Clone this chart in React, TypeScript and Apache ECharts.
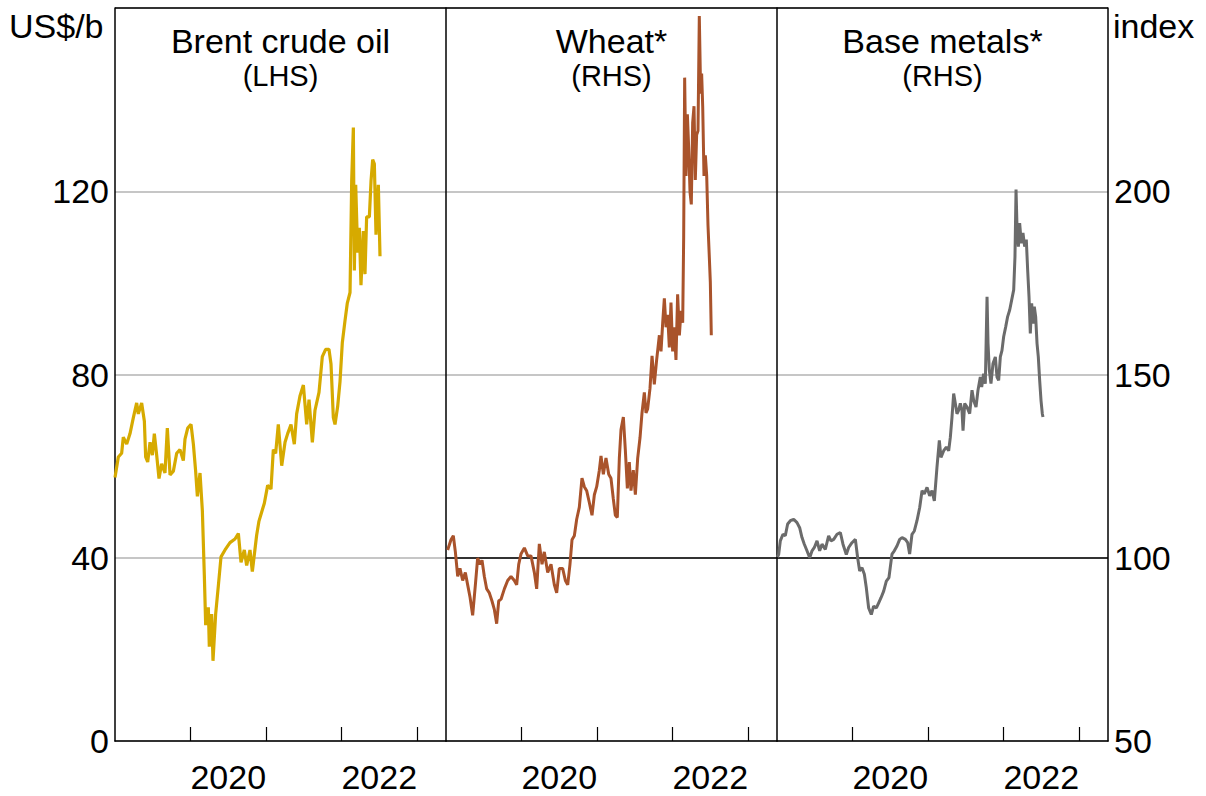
import React, { useEffect, useRef } from 'react';
import * as echarts from 'echarts';

const FONT = '"Liberation Sans", Arial, Helvetica, sans-serif';

// Panel headers
const panelTitles = ['Brent crude oil', 'Wheat*', 'Base metals*'];
const panelSubs = ['(LHS)', '(RHS)', '(RHS)'];

// X-axis (years)
const yearTicks = [2020, 2021, 2022, 2023];
const yearLabels = [2020, 2022];

// Brent crude oil, US$/b (LHS)
const brentYears = [
  2019.000, 2019.044, 2019.088, 2019.110, 2019.155, 2019.199, 2019.243, 2019.287, 2019.309, 2019.353,
  2019.389, 2019.406, 2019.433, 2019.464, 2019.495, 2019.521, 2019.552, 2019.583, 2019.618, 2019.662,
  2019.693, 2019.729, 2019.773, 2019.817, 2019.861, 2019.905, 2019.927, 2019.963, 2020.007, 2020.038,
  2020.068, 2020.091, 2020.126, 2020.157, 2020.183, 2020.201, 2020.236, 2020.249, 2020.280, 2020.298,
  2020.333, 2020.369, 2020.404, 2020.457, 2020.523, 2020.589, 2020.634, 2020.669, 2020.713, 2020.744,
  2020.788, 2020.819, 2020.876, 2020.907, 2020.943, 2020.978, 2021.022, 2021.066, 2021.097, 2021.128,
  2021.163, 2021.208, 2021.252, 2021.287, 2021.331, 2021.375, 2021.406, 2021.450, 2021.495, 2021.539,
  2021.570, 2021.614, 2021.649, 2021.702, 2021.746, 2021.790, 2021.834, 2021.861, 2021.892, 2021.914,
  2021.949, 2021.980, 2022.011, 2022.046, 2022.077, 2022.113, 2022.135, 2022.157, 2022.170, 2022.188,
  2022.214, 2022.236, 2022.258, 2022.289, 2022.311, 2022.333, 2022.369, 2022.391, 2022.413, 2022.435,
  2022.457, 2022.488, 2022.510,
];
const brentValues = [
  57.5, 62, 62.8, 66.3, 64.8, 67.1, 70.6, 73.8, 71.4, 73.8,
  69.8, 62, 60.9, 65.2, 62.4, 67.1, 62.4, 57.3, 60.5, 58.5,
  68.3, 58.1, 58.9, 62.8, 63.6, 61.2, 65.9, 68.3, 69.1, 64.8,
  58.9, 53.4, 58.5, 50.3, 36.3, 25.3, 29.2, 20.6, 27.7, 17.5,
  27.7, 33.9, 40.2, 41.7, 43.3, 44.1, 45.3, 39, 41.7, 38.3,
  41.7, 37, 44.9, 48, 50, 51.9, 55.8, 55, 63.6, 62.8,
  69.1, 60.1, 65.2, 67.1, 69.1, 64.8, 71.4, 75.3, 77.7, 69.1,
  74.5, 65.2, 72.2, 76.1, 83.9, 85.5, 85.5, 82.3, 70.6, 69.1,
  73, 78.4, 87, 91.7, 95.6, 97.9, 122.2, 133.9, 102.7, 121.4,
  106.6, 112, 99.5, 111.3, 101.9, 114.4, 114.4, 122.2, 126.9, 126,
  110.5, 121.4, 105.8,
];

// Wheat, index (RHS)
const wheatYears = [
  2019.022, 2019.066, 2019.097, 2019.124, 2019.155, 2019.185, 2019.221, 2019.256, 2019.287, 2019.318,
  2019.353, 2019.389, 2019.419, 2019.450, 2019.477, 2019.508, 2019.539, 2019.574, 2019.609, 2019.640,
  2019.671, 2019.698, 2019.729, 2019.773, 2019.817, 2019.861, 2019.905, 2019.936, 2019.963, 2019.993,
  2020.038, 2020.082, 2020.126, 2020.170, 2020.201, 2020.236, 2020.272, 2020.302, 2020.347, 2020.391,
  2020.435, 2020.466, 2020.501, 2020.545, 2020.581, 2020.612, 2020.642, 2020.669, 2020.700, 2020.731,
  2020.766, 2020.801, 2020.832, 2020.863, 2020.899, 2020.934, 2020.965, 2020.996, 2021.031, 2021.053,
  2021.084, 2021.119, 2021.155, 2021.185, 2021.216, 2021.243, 2021.269, 2021.296, 2021.318, 2021.349,
  2021.375, 2021.402, 2021.428, 2021.450, 2021.481, 2021.508, 2021.539, 2021.570, 2021.596, 2021.627,
  2021.649, 2021.671, 2021.702, 2021.729, 2021.759, 2021.790, 2021.826, 2021.848, 2021.870, 2021.892,
  2021.914, 2021.936, 2021.958, 2021.980, 2022.002, 2022.024, 2022.046, 2022.068, 2022.091, 2022.113,
  2022.135, 2022.148, 2022.161, 2022.179, 2022.197, 2022.214, 2022.232, 2022.249, 2022.267, 2022.285,
  2022.302, 2022.320, 2022.338, 2022.355, 2022.373, 2022.386, 2022.400, 2022.417, 2022.435, 2022.453,
  2022.470, 2022.488, 2022.501, 2022.514,
];
const wheatValues = [
  102.1, 104.9, 106, 101.6, 94.9, 97.1, 93.8, 96, 92.6, 89.3,
  84.3, 92.6, 99.9, 98.2, 99.3, 94.9, 91.5, 90.4, 88.2, 85.9,
  82, 88.2, 88.7, 91.5, 93.8, 94.9, 93.8, 92.6, 98.2, 101,
  102.7, 100.5, 100.5, 96, 91.5, 103.8, 98.2, 101.6, 96, 98.2,
  92.6, 90.4, 97.1, 97.1, 93.8, 92.6, 98.2, 104.9, 106, 110.5,
  113.8, 121.7, 119.4, 118.3, 115, 111.6, 117.2, 119.4, 123.9, 127.8,
  122.8, 127.2, 122.8, 121.7, 116.1, 111.6, 111, 127.2, 135, 138.4,
  129.5, 118.9, 126.1, 118.3, 123.9, 117.2, 127.2, 132.8, 139.5, 145.1,
  139.5, 140.6, 146.2, 155.1, 147.3, 154, 160.7, 156.3, 164.1, 170.8,
  162.9, 166.3, 157.4, 169.6, 156.3, 162.9, 154, 171.9, 160.7, 167.4,
  164.1, 187.5, 231, 204.2, 221, 212, 199.8, 196.4, 218.7, 223.2,
  203.1, 215.4, 216.5, 247.8, 226.6, 232.1, 223.2, 204.2, 209.8, 204.2,
  190.8, 181.9, 175.2, 160.7,
];

// Base metals, index (RHS)
const metalsYears = [
  2019.004, 2019.022, 2019.044, 2019.079, 2019.110, 2019.141, 2019.177, 2019.221, 2019.265, 2019.300, 2019.331,
  2019.362, 2019.397, 2019.433, 2019.464, 2019.495, 2019.530, 2019.565, 2019.596, 2019.640, 2019.684,
  2019.715, 2019.751, 2019.795, 2019.839, 2019.874, 2019.918, 2019.949, 2019.993, 2020.038, 2020.068,
  2020.095, 2020.126, 2020.157, 2020.183, 2020.214, 2020.249, 2020.280, 2020.316, 2020.347, 2020.378,
  2020.413, 2020.448, 2020.483, 2020.523, 2020.554, 2020.589, 2020.625, 2020.656, 2020.700, 2020.731,
  2020.757, 2020.788, 2020.819, 2020.854, 2020.890, 2020.921, 2020.951, 2020.987, 2021.022, 2021.053,
  2021.084, 2021.119, 2021.150, 2021.172, 2021.208, 2021.243, 2021.274, 2021.296, 2021.318, 2021.340,
  2021.362, 2021.384, 2021.406, 2021.428, 2021.450, 2021.464, 2021.486, 2021.517, 2021.552, 2021.583,
  2021.605, 2021.636, 2021.662, 2021.693, 2021.711, 2021.737, 2021.759, 2021.782, 2021.795, 2021.812,
  2021.834, 2021.861, 2021.892, 2021.914, 2021.936, 2021.958, 2021.980, 2022.002, 2022.029, 2022.055,
  2022.082, 2022.108, 2022.135, 2022.152, 2022.166, 2022.179, 2022.197, 2022.214, 2022.236, 2022.258,
  2022.280, 2022.302, 2022.320, 2022.338, 2022.355, 2022.373, 2022.391, 2022.408, 2022.426, 2022.444,
  2022.461, 2022.479, 2022.497, 2022.514, 2022.523,
];
const metalsValues = [
  100.2, 100.9, 104.6, 106.4, 106, 109.2, 110.1, 110.5, 109.6, 108.2, 105.5,
  103.7, 101.9, 100, 101.9, 102.8, 104.6, 101.9, 103.7, 102.3, 106,
  104.6, 105, 106.4, 106.9, 103.7, 100.9, 102.8, 104.1, 105, 100,
  96.4, 97.3, 95.5, 91.8, 86.3, 84.5, 86.8, 86.3, 87.7, 89.1,
  90.9, 93.6, 94.6, 101, 101.9, 103.2, 105, 105.5, 105, 104.1,
  101, 106.4, 107.3, 110.1, 113.7, 118.3, 117.4, 119.2, 116.9, 118.3,
  115.5, 124.7, 132, 127.4, 129.2, 130.2, 129.2, 132.9, 138.4, 144.8,
  142.1, 139.3, 140.2, 142.1, 140.2, 134.7, 142.1, 141.1, 139.3, 145.7,
  142.9, 141.1, 145.7, 149.3, 146.6, 150.2, 147.5, 171.2, 158.5, 151.2,
  147.5, 153, 154.8, 149.3, 148.4, 154.8, 156.6, 160.3, 163, 165.8,
  167.6, 170.3, 173.1, 182.2, 200.5, 190.4, 184.9, 191.3, 185.8, 188.6,
  184.9, 186.8, 178.5, 171.2, 161.2, 169.4, 163.9, 168.5, 165.8, 158.5,
  154.8, 148.4, 142.9, 139.3, 138.4,
];

function zip(xs: number[], ys: number[]) {
  return xs.map((x, i) => [x, ys[i]]);
}

export default function App() {
  const ref = useRef<HTMLDivElement>(null);
  useEffect(() => {
    if (!ref.current) return;
    const chart = echarts.init(ref.current, null, { renderer: 'svg' });

    const lefts = [115, 446, 777];
    const W = 331;
    const TOP = 8;
    const H = 733;
    const pxPerYear = 75.5;
    const xMax = 2019 + W / pxPerYear;
    const gridColor = '#b3b3b3';
    const tickFont = 34;

    const grids = lefts.map((l) => ({ left: l, top: TOP, width: W, height: H, containLabel: false }));

    const xAxes = lefts.map((_, i) => ({
      type: 'value',
      gridIndex: i,
      min: 2019,
      max: xMax,
      axisLine: { show: true, onZero: false, lineStyle: { color: '#000', width: 1.5 } },
      axisTick: { show: true, inside: true, length: 14, customValues: yearTicks, lineStyle: { color: '#000', width: 1.2 } },
      axisLabel: {
        show: true,
        customValues: yearLabels.map((y) => y + 0.5),
        formatter: (v: number) => String(Math.floor(v)),
        fontSize: tickFont,
        fontFamily: FONT,
        color: '#000',
        margin: 19,
      },
      splitLine: { show: false },
    }));

    const splitLine = { show: true, lineStyle: { color: gridColor, width: 1.5 } };
    const axisLine = { show: true, onZero: false, lineStyle: { color: '#000', width: 1.5 } };

    const yAxes = [
      {
        type: 'value', gridIndex: 0, position: 'left', min: 0, max: 160, interval: 40,
        axisLine, axisTick: { show: false },
        axisLabel: { fontSize: tickFont, fontFamily: FONT, color: '#000', margin: 6, showMaxLabel: false },
        splitLine,
      },
      {
        type: 'value', gridIndex: 1, position: 'left', min: 50, max: 250, interval: 50,
        axisLine, axisTick: { show: false }, axisLabel: { show: false }, splitLine,
      },
      {
        type: 'value', gridIndex: 2, position: 'left', min: 50, max: 250, interval: 50,
        axisLine, axisTick: { show: false }, axisLabel: { show: false }, splitLine,
      },
      {
        type: 'value', gridIndex: 2, position: 'right', min: 50, max: 250, interval: 50,
        axisLine, axisTick: { show: false },
        axisLabel: { fontSize: tickFont, fontFamily: FONT, color: '#000', margin: 6, showMaxLabel: false },
        splitLine: { show: false },
      },
    ];

    const baseLine = {
      silent: true,
      symbol: 'none',
      label: { show: false },
      lineStyle: { color: '#000', width: 1.5, type: 'solid' },
      data: [{ yAxis: 100 }],
    };

    const series = [
      {
        name: 'Brent crude oil', type: 'line', xAxisIndex: 0, yAxisIndex: 0,
        data: zip(brentYears, brentValues), showSymbol: false, symbol: 'none',
        lineStyle: { color: '#D6AA00', width: 3.2 }, itemStyle: { color: '#D6AA00' }, z: 5,
      },
      {
        name: 'Wheat', type: 'line', xAxisIndex: 1, yAxisIndex: 1,
        data: zip(wheatYears, wheatValues), showSymbol: false, symbol: 'none',
        lineStyle: { color: '#A9532B', width: 3 }, itemStyle: { color: '#A9532B' }, z: 5,
        markLine: baseLine,
      },
      {
        name: 'Base metals', type: 'line', xAxisIndex: 2, yAxisIndex: 2,
        data: zip(metalsYears, metalsValues), showSymbol: false, symbol: 'none',
        lineStyle: { color: '#6B6B6B', width: 3 }, itemStyle: { color: '#6B6B6B' }, z: 5,
        markLine: baseLine,
      },
    ];

    const centers = lefts.map((l) => l + W / 2);
    const textStyle = (text: string, size: number, align: string) => ({
      text,
      fontSize: size,
      fontFamily: FONT,
      fill: '#000',
      align,
      verticalAlign: 'middle',
      textAlign: align,
      textVerticalAlign: 'middle',
    });

    const graphic = [
      {
        type: 'line', silent: true, z: 10,
        shape: { x1: lefts[0], y1: TOP, x2: lefts[2] + W, y2: TOP },
        style: { stroke: '#000', lineWidth: 1.5 },
      },
      { type: 'text', x: 9, y: 26, style: textStyle('US$/b', 34, 'left') },
      { type: 'text', x: 1113, y: 26, style: textStyle('index', 34, 'left') },
      ...centers.map((c, i) => ({ type: 'text', x: c, y: 41, style: textStyle(panelTitles[i], 34, 'center') })),
      ...centers.map((c, i) => ({ type: 'text', x: c, y: 76, style: textStyle(panelSubs[i], 29, 'center') })),
    ];

    chart.setOption({
      animation: false,
      backgroundColor: '#fff',
      grid: grids,
      xAxis: xAxes,
      yAxis: yAxes,
      series,
      graphic,
    });

    return () => chart.dispose();
  }, []);

  return (
    <div
      ref={ref}
      style={{ position: 'fixed', left: 0, top: 0, width: 1206, height: 796, background: '#fff' }}
    />
  );
}
